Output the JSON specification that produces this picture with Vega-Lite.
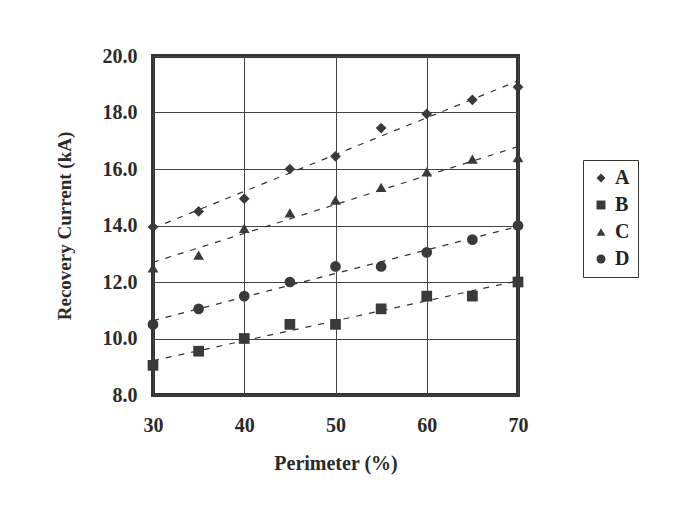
{
  "$schema": "https://vega.github.io/schema/vega-lite/v6.json",
  "width": 365,
  "height": 339,
  "autosize": "none",
  "padding": {"left": 153, "top": 56, "right": 158, "bottom": 119},
  "background": "white",
  "data": {
    "values": [
      {"perimeter": 30, "series": "A", "current": 13.95},
      {"perimeter": 35, "series": "A", "current": 14.5},
      {"perimeter": 40, "series": "A", "current": 14.95},
      {"perimeter": 45, "series": "A", "current": 16.0},
      {"perimeter": 50, "series": "A", "current": 16.45},
      {"perimeter": 55, "series": "A", "current": 17.45},
      {"perimeter": 60, "series": "A", "current": 17.95},
      {"perimeter": 65, "series": "A", "current": 18.45},
      {"perimeter": 70, "series": "A", "current": 18.9},
      {"perimeter": 30, "series": "B", "current": 9.05},
      {"perimeter": 35, "series": "B", "current": 9.55},
      {"perimeter": 40, "series": "B", "current": 10.0},
      {"perimeter": 45, "series": "B", "current": 10.5},
      {"perimeter": 50, "series": "B", "current": 10.5},
      {"perimeter": 55, "series": "B", "current": 11.05},
      {"perimeter": 60, "series": "B", "current": 11.5},
      {"perimeter": 65, "series": "B", "current": 11.5},
      {"perimeter": 70, "series": "B", "current": 12.0},
      {"perimeter": 30, "series": "C", "current": 12.5},
      {"perimeter": 35, "series": "C", "current": 12.95},
      {"perimeter": 40, "series": "C", "current": 13.9},
      {"perimeter": 45, "series": "C", "current": 14.45},
      {"perimeter": 50, "series": "C", "current": 14.9},
      {"perimeter": 55, "series": "C", "current": 15.35},
      {"perimeter": 60, "series": "C", "current": 15.9},
      {"perimeter": 65, "series": "C", "current": 16.35},
      {"perimeter": 70, "series": "C", "current": 16.4},
      {"perimeter": 30, "series": "D", "current": 10.5},
      {"perimeter": 35, "series": "D", "current": 11.05},
      {"perimeter": 40, "series": "D", "current": 11.5},
      {"perimeter": 45, "series": "D", "current": 12.0},
      {"perimeter": 50, "series": "D", "current": 12.55},
      {"perimeter": 55, "series": "D", "current": 12.55},
      {"perimeter": 60, "series": "D", "current": 13.05},
      {"perimeter": 65, "series": "D", "current": 13.5},
      {"perimeter": 70, "series": "D", "current": 14.0}
    ]
  },
  "encoding": {
    "x": {
      "field": "perimeter",
      "type": "quantitative",
      "scale": {"domain": [30, 70], "nice": false, "zero": false},
      "axis": {
        "title": "Perimeter (%)",
        "values": [30, 40, 50, 60, 70],
        "grid": true,
        "domain": false,
        "ticks": false,
        "labelPadding": 20,
        "titlePadding": 18,
        "labelFlush": false
      }
    },
    "y": {
      "field": "current",
      "type": "quantitative",
      "scale": {"domain": [8, 20], "nice": false, "zero": false},
      "axis": {
        "title": "Recovery Current (kA)",
        "titleFontSize": 19,
        "values": [8, 10, 12, 14, 16, 18, 20],
        "format": ".1f",
        "grid": true,
        "domain": false,
        "ticks": false,
        "labelPadding": 16,
        "titlePadding": 28,
        "labelFlush": false
      }
    }
  },
  "layer": [
    {
      "transform": [
        {"regression": "current", "on": "perimeter", "groupby": ["series"]}
      ],
      "mark": {"type": "line", "color": "#333", "strokeWidth": 1.2, "strokeDash": [6, 7]},
      "encoding": {
        "detail": {"field": "series"}
      }
    },
    {
      "mark": {"type": "point", "filled": true, "opacity": 1, "color": "#3a3a3a", "size": 115},
      "encoding": {
        "shape": {
          "field": "series",
          "type": "nominal",
          "scale": {"domain": ["A", "B", "C", "D"], "range": ["diamond", "square", "triangle-up", "circle"]},
          "legend": {
            "title": null,
            "orient": "none",
            "legendX": 430,
            "legendY": 104,
            "strokeColor": "#333",
            "padding": 8,
            "rowPadding": 7,
            "symbolFillColor": "#3a3a3a",
            "symbolStrokeColor": "#3a3a3a",
            "symbolSize": 80,
            "labelFont": "Liberation Serif",
            "labelFontWeight": "bold",
            "labelFontSize": 20,
            "labelColor": "#222",
            "labelOffset": 4
          }
        }
      }
    }
  ],
  "config": {
    "view": {"stroke": "#333", "strokeWidth": 4},
    "axis": {
      "gridColor": "#444",
      "gridWidth": 1,
      "gridOpacity": 1,
      "labelFont": "Liberation Serif",
      "labelFontWeight": "bold",
      "labelFontSize": 20,
      "labelColor": "#2a2a2a",
      "titleFont": "Liberation Serif",
      "titleFontWeight": "bold",
      "titleFontSize": 20,
      "titleColor": "#2a2a2a"
    }
  }
}
